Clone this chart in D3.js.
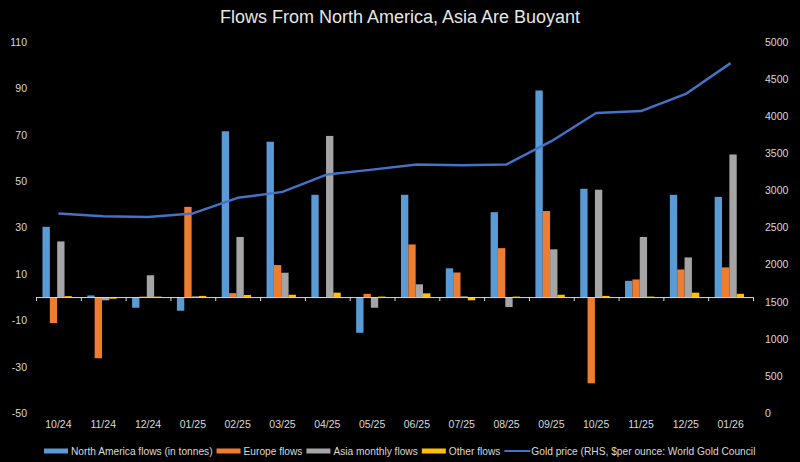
<!DOCTYPE html>
<html>
<head>
<meta charset="utf-8">
<script src="https://cdn.jsdelivr.net/npm/d3@7"></script>
<style>
  body { margin: 0; background: #000; }
  svg { display: block; }
</style>
</head>
<body>
<div id="chart"></div>
<script>
// data
const months = ['10/24', '11/24', '12/24', '01/25', '02/25', '03/25', '04/25', '05/25',
                '06/25', '07/25', '08/25', '09/25', '10/25', '11/25', '12/25', '01/26'];
const northAmerica = [30.3, 0.7, -4.6, -5.9, 71.5, 67.0, 44.1, -15.4, 44.1, 12.4, 36.6, 89.1, 46.7, 7.0, 44.1, 43.2];
const europe = [-11.2, -26.4, 0.2, 38.9, 1.7, 13.8, -0.4, 1.4, 22.7, 10.6, 21.1, 37.1, -37.2, 7.6, 11.9, 12.8];
const asia = [24.0, -1.4, 9.4, 0.3, 25.9, 10.5, 69.5, -4.6, 5.5, 0.3, -4.3, 20.6, 46.3, 25.9, 17.1, 61.5];
const other = [0.4, -0.7, 0.2, 0.5, 0.9, 1.0, 1.9, 0.2, 1.6, -1.4, 0.2, 1.0, 0.5, 0.2, 1.9, 1.4];
const goldPrice = [2690, 2650, 2640, 2690, 2900, 2980, 3215, 3280, 3350, 3340, 3350, 3663, 4044, 4069, 4300, 4715];
const leftTicks = [-50, -30, -10, 10, 30, 50, 70, 90, 110];
const rightTicks = [0, 500, 1000, 1500, 2000, 2500, 3000, 3500, 4000, 4500, 5000];

const series = [
  { key: 'na', label: 'North America flows (in tonnes)', values: northAmerica, color: '#5b9bd5' },
  { key: 'eu', label: 'Europe flows', values: europe, color: '#ed7d31' },
  { key: 'asia', label: 'Asia monthly flows', values: asia, color: '#a5a5a5' },
  { key: 'other', label: 'Other flows', values: other, color: '#ffc000' }
];
const lineColor = '#4472c4';
const textColor = '#d9d9d9';

const W = 800, H = 462;
const svg = d3.select('#chart').append('svg')
  .attr('width', W)
  .attr('height', H)
  .style('background', '#000');

svg.append('text')
  .attr('x', 400)
  .attr('y', 23)
  .attr('text-anchor', 'middle')
  .style('font-family', '"Liberation Sans Narrow", "Liberation Sans", sans-serif')
  .style('font-size', '18px')
  .attr('fill', '#e6e6e6')
  .text('Flows From North America, Asia Are Buoyant');

const x0 = d3.scaleBand().domain(months).range([36, 753]).padding(0);
const x1 = d3.scaleBand().domain(series.map(s => s.key))
  .range([0, x0.bandwidth()])
  .paddingInner(0).paddingOuter(1.05).align(0.42);
const y = d3.scaleLinear().domain([-50, 110]).range([413, 42]);
const yR = d3.scaleLinear().domain([0, 5000]).range([413, 42]);

const font = '"Liberation Sans", Arial, sans-serif';
const plain = d => String(d);

// left axis
const gl = svg.append('g')
  .attr('transform', 'translate(30,0)')
  .call(d3.axisLeft(y).tickValues(leftTicks).tickFormat(plain).tickSize(0).tickPadding(3));
gl.select('.domain').remove();

// right axis
const gr = svg.append('g')
  .attr('transform', 'translate(762,0)')
  .call(d3.axisRight(yR).tickValues(rightTicks).tickFormat(plain).tickSize(0).tickPadding(3));
gr.select('.domain').remove();

// month labels
const gx = svg.append('g')
  .attr('transform', 'translate(0,413)')
  .call(d3.axisBottom(x0).tickSize(0).tickPadding(8));
gx.select('.domain').remove();

svg.selectAll('.tick text')
  .attr('fill', textColor)
  .style('font-family', font)
  .style('font-size', '10.5px');

// bars
const groups = svg.append('g').selectAll('g')
  .data(months)
  .join('g')
  .attr('transform', d => 'translate(' + x0(d) + ',0)');

groups.selectAll('rect')
  .data((d, i) => series.map(s => ({ key: s.key, value: s.values[i], color: s.color })))
  .join('rect')
  .attr('x', d => x1(d.key))
  .attr('width', x1.bandwidth())
  .attr('y', d => y(Math.max(0, d.value)))
  .attr('height', d => Math.abs(y(d.value) - y(0)))
  .attr('fill', d => d.color);

// zero line with band-boundary ticks
const edge = d3.scaleLinear().domain([0, months.length]).range(x0.range());
const gz = svg.append('g')
  .attr('transform', 'translate(0,' + y(0) + ')')
  .call(d3.axisBottom(edge).tickValues(d3.range(months.length + 1)).tickSize(4).tickSizeOuter(0).tickFormat(''));
gz.selectAll('path, line').attr('stroke', '#d9d9d9');

// gold price line
const line = d3.line()
  .x((d, i) => x0(months[i]) + x0.bandwidth() / 2)
  .y(d => yR(d));
svg.append('path')
  .datum(goldPrice)
  .attr('d', line)
  .attr('fill', 'none')
  .attr('stroke', lineColor)
  .attr('stroke-width', 2.5)
  .attr('stroke-linejoin', 'round');

// legend
const legendItems = series.map(s => ({ label: s.label, color: s.color, type: 'rect' }))
  .concat([{ label: 'Gold price (RHS, $per ounce: World Gold Council', color: lineColor, type: 'line' }]);
const legend = svg.append('g').attr('transform', 'translate(44,451)');
let lx = 0;
legendItems.forEach(item => {
  const g = legend.append('g').attr('transform', 'translate(' + lx + ',0)');
  if (item.type === 'rect') {
    g.append('rect').attr('x', 0).attr('y', -2.5).attr('width', 24).attr('height', 5).attr('fill', item.color);
  } else {
    g.append('line').attr('x1', 0).attr('x2', 26).attr('y1', 0).attr('y2', 0)
      .attr('stroke', item.color).attr('stroke-width', 2);
  }
  const t = g.append('text')
    .attr('x', 27)
    .attr('y', 0)
    .attr('dy', '0.35em')
    .attr('fill', textColor)
    .style('font-family', font)
    .style('font-size', '10.2px')
    .text(item.label);
  lx += 27 + t.node().getComputedTextLength() + 4;
});
</script>
</body>
</html>
